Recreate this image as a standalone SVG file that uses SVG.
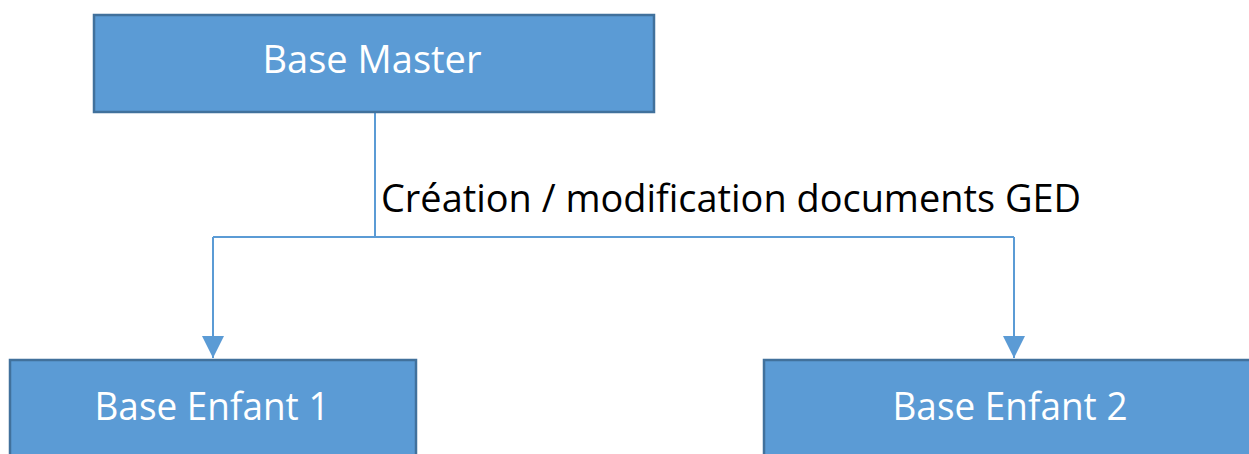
<svg xmlns="http://www.w3.org/2000/svg" width="1249" height="454" viewBox="0 0 1249 454">
<style>
.box{fill:#5B9BD5;stroke:#41719C;stroke-width:2.5}
.nt{fill:#FFFFFF;font-family:"Open Sans","Liberation Sans",sans-serif;font-size:38px;text-anchor:middle}
.lbl{fill:#000000;font-family:"Open Sans","Liberation Sans",sans-serif;font-size:38px}
.conn{fill:none;stroke:#5B9BD5;stroke-width:2}
</style>
<defs>
<marker id="arr" markerUnits="userSpaceOnUse" markerWidth="24" markerHeight="22" refX="22" refY="11" orient="auto">
<path d="M0,0 L22,11 L0,22 Z" fill="#5B9BD5"/>
</marker>
</defs>
<rect width="1249" height="454" fill="#FFFFFF"/>
<g id="connectors">
<path class="conn" d="M375,112 L375,237"/>
<path class="conn" d="M213,237 L1014,237"/>
<path class="conn" d="M213,237 L213,358" marker-end="url(#arr)"/>
<path class="conn" d="M1014,237 L1014,358" marker-end="url(#arr)"/>
<text class="lbl" x="381" y="212" textLength="700" lengthAdjust="spacingAndGlyphs">Création / modification documents GED</text>
</g>
<g id="node-master">
<rect class="box" x="94" y="15" width="560" height="97"/>
<text class="nt" x="372" y="73" textLength="219" lengthAdjust="spacingAndGlyphs">Base Master</text>
</g>
<g id="node-enfant1">
<rect class="box" x="10" y="360" width="406" height="110"/>
<text class="nt" x="212" y="420" textLength="235" lengthAdjust="spacingAndGlyphs">Base Enfant 1</text>
</g>
<g id="node-enfant2">
<rect class="box" x="764" y="360" width="500" height="110"/>
<text class="nt" x="1010" y="420" textLength="235" lengthAdjust="spacingAndGlyphs">Base Enfant 2</text>
</g>
</svg>
